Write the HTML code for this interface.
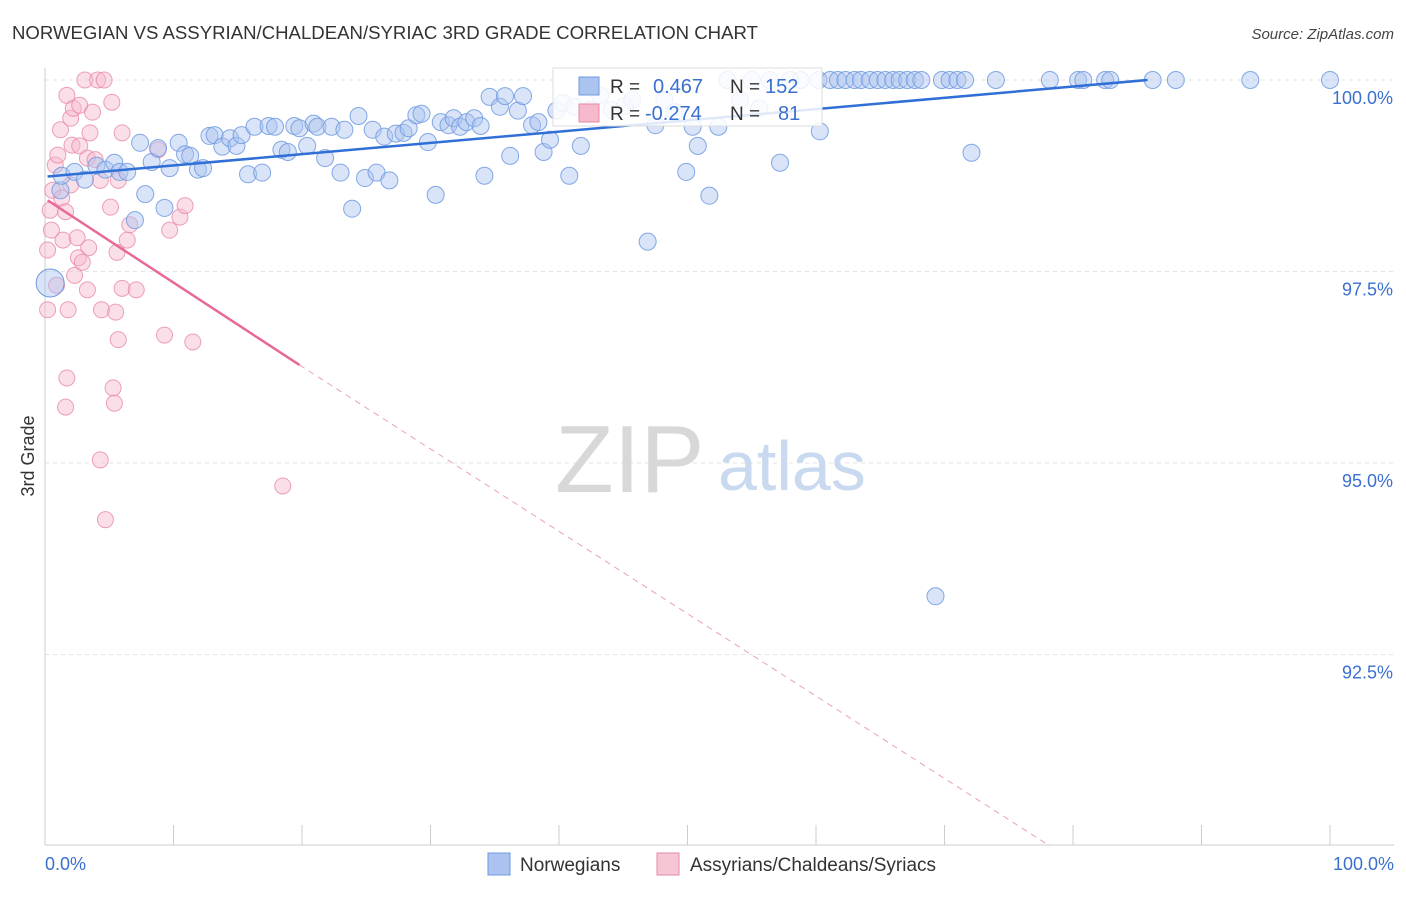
<!DOCTYPE html>
<html><head><meta charset="utf-8">
<style>
body{margin:0;background:#fff;font-family:"Liberation Sans",sans-serif;}
svg text{font-family:"Liberation Sans",sans-serif;}
</style></head>
<body>
<svg id="chart" width="1406" height="892" xmlns="http://www.w3.org/2000/svg">
<text x="12" y="39" font-size="18.6" fill="#333">NORWEGIAN VS ASSYRIAN/CHALDEAN/SYRIAC 3RD GRADE CORRELATION CHART</text>
<text x="1394" y="39" font-size="15" fill="#444" text-anchor="end" font-style="italic">Source: ZipAtlas.com</text>
<g id="grid"></g>
<g>
<text x="555" y="492" font-size="96" fill="#d8d8d8" font-family="Liberation Serif">ZIP</text>
<text x="718" y="490" font-size="70" fill="#c9d9ef">atlas</text>
</g>
<line x1="45" y1="68" x2="45" y2="845" stroke="#ccc"/>
<line x1="45" y1="845" x2="1394" y2="845" stroke="#ccc"/>
<g id="xticks"></g>
<g id="ylabels"></g>
<text x="45" y="870" font-size="18" fill="#3a70d0">0.0%</text>
<text x="1394" y="870" font-size="18" fill="#3a70d0" text-anchor="end">100.0%</text>
<text transform="translate(34,456) rotate(-90)" font-size="18" fill="#333" text-anchor="middle">3rd Grade</text>
<g id="pinkpts"></g>
<g id="bluepts"></g>
<g id="trends"></g>
<g>
<rect x="553" y="68" width="269" height="58" fill="#fff" fill-opacity="0.85" stroke="#ddd"/>
<rect x="579" y="77" width="20" height="18" fill="#aac4ef" stroke="#6f9ae0"/>
<rect x="579" y="104" width="20" height="18" fill="#f6b8cb" stroke="#e98aa8"/>
<text x="610" y="93" font-size="19" fill="#333">R =</text>
<text x="653" y="93" font-size="20" fill="#3a70d0">0.467</text>
<text x="730" y="93" font-size="19" fill="#333">N =</text>
<text x="765" y="93" font-size="20" fill="#3a70d0">152</text>
<text x="610" y="120" font-size="19" fill="#333">R =</text>
<text x="645" y="120" font-size="20" fill="#3a70d0">-0.274</text>
<text x="730" y="120" font-size="19" fill="#333">N =</text>
<text x="778" y="120" font-size="20" fill="#3a70d0">81</text>
</g>
<g>
<rect x="488" y="853" width="22" height="22" fill="#aac4ef" stroke="#6f9ae0"/>
<text x="520" y="871" font-size="19" fill="#333">Norwegians</text>
<rect x="657" y="853" width="22" height="22" fill="#f6c6d5" stroke="#e98aa8"/>
<text x="690" y="871" font-size="19" fill="#333">Assyrians/Chaldeans/Syriacs</text>
</g>
</svg>
<script>
const yTicks=[100,97.5,95,92.5];
const yTickLabels=["100.0%","97.5%","95.0%","92.5%"];
const xTicks=[0,10,20,30,40,50,60,70,80,90,100];
const blueX=[1.2,1.3,2.3,3.1,4.0,4.7,5.4,5.8,6.4,7.0,7.4,7.8,8.3,8.8,9.3,9.7,10.4,10.9,11.3,11.9,12.3,12.8,13.2,13.8,14.4,14.9,15.3,15.8,16.3,16.9,17.4,17.9,18.4,18.9,19.4,19.8,20.4,20.9,21.2,21.8,22.3,23.0,23.3,23.9,24.4,24.9,25.5,25.8,26.4,26.8,27.3,27.9,28.3,28.9,29.3,29.8,30.4,30.8,31.4,31.8,32.3,32.8,33.4,33.9,34.2,34.6,35.4,35.8,36.2,36.8,37.2,37.9,38.4,38.8,39.3,39.8,40.3,40.8,41.2,41.7,42.4,43.2,44.1,45.1,45.7,46.9,47.5,48.2,49.0,49.9,50.4,50.8,51.7,52.4,53.1,54.1,55.0,55.6,56.4,57.2,58.0,58.8,60.2,60.3,61.1,61.7,62.3,63.0,63.5,64.2,64.8,65.4,66.0,66.5,67.1,67.7,68.2,69.8,70.4,71.0,71.6,69.3,72.1,74.0,78.2,80.4,80.8,82.5,82.9,86.2,88.0,93.8,100];
const blueY=[98.56,98.75,98.80,98.70,98.88,98.83,98.92,98.80,98.80,98.17,99.18,98.51,98.93,99.11,98.33,98.85,99.18,99.03,99.01,98.83,98.85,99.27,99.28,99.13,99.24,99.14,99.28,98.77,99.39,98.79,99.40,99.39,99.09,99.06,99.40,99.37,99.14,99.43,99.39,98.98,99.39,98.79,99.35,98.32,99.53,98.72,99.35,98.79,99.26,98.69,99.30,99.31,99.37,99.54,99.56,99.19,98.50,99.45,99.41,99.50,99.39,99.45,99.50,99.40,98.75,99.78,99.65,99.79,99.01,99.60,99.79,99.41,99.45,99.06,99.22,99.60,99.70,98.75,99.65,99.14,99.61,99.80,99.61,99.66,99.74,97.89,99.41,99.74,99.58,98.80,99.39,99.14,98.49,99.39,100,99.73,100,99.63,100,98.92,100,100,100,99.33,100,100,100,100,100,100,100,100,100,100,100,100,100,100,100,100,100,93.26,99.05,100,100,100,100,100,100,100,100,100,100];
const pinkX=[0.2,0.2,0.4,0.5,0.6,0.8,0.9,1.0,1.2,1.3,1.4,1.6,1.7,1.7,1.8,1.6,2.0,2.0,2.1,2.2,2.3,2.5,2.6,2.7,2.7,2.9,3.1,3.3,3.3,3.4,3.5,3.7,3.9,4.1,4.3,4.3,4.4,4.6,4.7,5.1,5.2,5.3,5.4,5.5,5.6,5.7,5.7,6.0,6.0,6.4,6.6,7.1,8.8,9.3,9.7,10.5,10.9,11.5,18.5];
const pinkY=[97.78,97.0,98.30,98.04,98.56,98.89,97.32,99.02,99.35,98.46,97.91,98.28,99.80,96.11,97.0,95.73,98.63,99.50,99.15,99.63,97.45,97.94,97.68,99.14,99.67,97.62,100,98.98,97.26,97.81,99.31,99.58,98.96,100,98.69,95.04,97.0,100,94.26,98.34,99.71,95.98,95.78,96.97,97.75,98.69,96.61,97.28,99.31,97.91,98.11,97.26,99.09,96.67,98.04,98.21,98.36,96.58,94.70];
const blueTrend=[[0.2,98.74],[85.8,100]];
const pinkTrendSolid=[[0.2,98.43],[19.8,96.28]];
const pinkTrendDash=[[19.8,96.28],[78.2,90.0]];

const NS="http://www.w3.org/2000/svg";
const sx=v=>45+v*12.85;
const sy=v=>80+(100-v)*76.6;
function mk(tag,attrs,parent){const e=document.createElementNS(NS,tag);for(const k in attrs)e.setAttribute(k,attrs[k]);parent.appendChild(e);return e;}
const grid=document.getElementById('grid'),yl=document.getElementById('ylabels'),xt=document.getElementById('xticks');
yTicks.forEach((t,i)=>{
 const l=mk('line',{x1:45,x2:1394,y1:sy(t),y2:sy(t),stroke:'#e3e3e3','stroke-dasharray':'4,4'},grid);
 
 
 const tx=mk('text',{x:1393,y:sy(t)+24,'font-size':18,fill:'#3a70d0','text-anchor':'end'},yl);
 tx.textContent=yTickLabels[i];
 
 
});
xTicks.forEach(t=>{
 const l=mk('line',{x1:sx(t),x2:sx(t),y1:825,y2:845,stroke:'#ccc'},xt);
 
 
});
const pp=document.getElementById('pinkpts');
pinkX.forEach((x,i)=>{
 const c=mk('circle',{cx:sx(x),cy:sy(pinkY[i]),r:8,fill:'#f6b8cb','fill-opacity':0.45,stroke:'#e98aa8','stroke-opacity':0.8},pp);
 
 
});
const bp=document.getElementById('bluepts');
blueX.forEach((x,i)=>{
 const c=mk('circle',{cx:sx(x),cy:sy(blueY[i]),r:8.5,fill:'#aac4ef','fill-opacity':0.45,stroke:'#6f9ae0','stroke-opacity':0.85},bp);
 
 
});
const big=mk('circle',{cx:sx(0.4),cy:sy(97.35),r:14,fill:'#aac4ef','fill-opacity':0.45,stroke:'#6f9ae0'},bp);


const tr=document.getElementById('trends');
function line(p,attrs,name){const l=mk('line',Object.assign({x1:sx(p[0][0]),y1:sy(p[0][1]),x2:sx(p[1][0]),y2:sy(p[1][1])},attrs),tr);}
line(blueTrend,{stroke:'#2f6fd6','stroke-width':2.5},'norwegian-trend-line');
line(pinkTrendSolid,{stroke:'#e8689a','stroke-width':2.5},'assyrian-trend-line');
line(pinkTrendDash,{stroke:'#eaa0bc','stroke-width':1,'stroke-dasharray':'6,5'},'assyrian-trend-extension');
</script>
</body></html>
